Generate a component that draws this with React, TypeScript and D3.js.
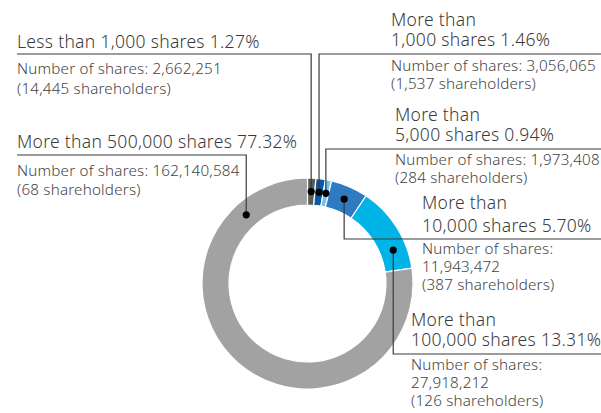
import React from "react";
import * as d3 from "d3";

// shareholding bands, clockwise from 12 o'clock
const categories = [
  ["Less than 1,000 shares"],
  ["More than", "1,000 shares"],
  ["More than", "5,000 shares"],
  ["More than", "10,000 shares"],
  ["More than", "100,000 shares"],
  ["More than 500,000 shares"],
];
const percents = [1.27, 1.46, 0.94, 5.7, 13.31, 77.32];
const shareCounts = ["2,662,251", "3,056,065", "1,973,408", "11,943,472", "27,918,212", "162,140,584"];
const holderCounts = ["14,445", "1,537", "284", "387", "126", "68"];
const colors = ["#5b5b5b", "#0b5aa5", "#6cc5ee", "#2f7bc1", "#00b4e8", "#a1a2a1"];

// where along each slice the leader dot sits (0 = start, 1 = end)
const anchorAt = [0.5, 0.5, 0.5, 0.5, 0.73, 0.85];

// label layout
const layout = [
  { side: "left", x: 17, titleY: 48, titleGap: 20, lineY: 54, subY: 74, subGap: 19.5, split: false },
  { side: "right", x: 391, titleY: 26, titleGap: 20, lineY: 54, subY: 71, subGap: 18, split: false },
  { side: "right", x: 395, titleY: 121, titleGap: 20, lineY: 149, subY: 165, subGap: 18, split: false },
  { side: "right", x: 422, titleY: 209, titleGap: 23, lineY: 239, subY: 254, subGap: 18, split: true },
  { side: "right", x: 411, titleY: 326, titleGap: 20, lineY: 354, subY: 370, subGap: 18, split: true },
  { side: "left", x: 17, titleY: 148, titleGap: 20, lineY: 155, subY: 176, subGap: 18.5, split: false },
];

const W = 601;
const H = 413;
const cx = 307.5;
const cy = 283.5;
const outerR = 105.5;
const innerR = 78.5;
const font = "'Noto Sans', sans-serif";

export default function App() {
  const pie = d3.pie<number>().sort(null).value((d) => d).startAngle(0).endAngle(2 * Math.PI);
  const arcs = pie(percents);
  const arc = d3.arc<d3.PieArcDatum<number>>().innerRadius(innerR).outerRadius(outerR);
  const midR = (innerR + outerR) / 2;

  return (
    <svg width={W} height={H} style={{ position: "absolute", left: 0, top: 0, background: "#fff" }}>
      <g transform={`translate(${cx},${cy})`}>
        {arcs.map((a, i) => (
          <path key={i} d={arc(a) || ""} fill={colors[i]} stroke="#fff" strokeWidth={1.2} />
        ))}
      </g>
      {arcs.map((a, i) => {
        const L = layout[i];
        const ang = a.startAngle + (a.endAngle - a.startAngle) * anchorAt[i];
        const dx = cx + midR * Math.sin(ang);
        const dy = cy - midR * Math.cos(ang);
        const endX = L.side === "left" ? L.x : W;
        const lines = categories[i].slice();
        lines[lines.length - 1] = `${lines[lines.length - 1]} ${percents[i].toFixed(2)}%`;
        const sub = L.split
          ? ["Number of shares:", shareCounts[i], `(${holderCounts[i]} shareholders)`]
          : [`Number of shares: ${shareCounts[i]}`, `(${holderCounts[i]} shareholders)`];
        return (
          <g key={i}>
            <path
              d={`M${dx},${dy}V${L.lineY}H${endX}`}
              fill="none"
              stroke="#3a3a3a"
              strokeWidth={1.2}
            />
            <circle cx={dx} cy={dy} r={3.6} fill="#000" />
            {lines.map((t, j) => (
              <text key={j} x={L.x} y={L.titleY + j * L.titleGap} fontFamily={font} fontSize={17.5} fontWeight={300} letterSpacing={0.3} fill="#3a3a3a">
                {t}
              </text>
            ))}
            {sub.map((t, j) => (
              <text key={j} x={L.x} y={L.subY + j * L.subGap} fontFamily={font} fontSize={15.2} fontWeight={300} letterSpacing={0.2} fill="#444">
                {t}
              </text>
            ))}
          </g>
        );
      })}
    </svg>
  );
}
